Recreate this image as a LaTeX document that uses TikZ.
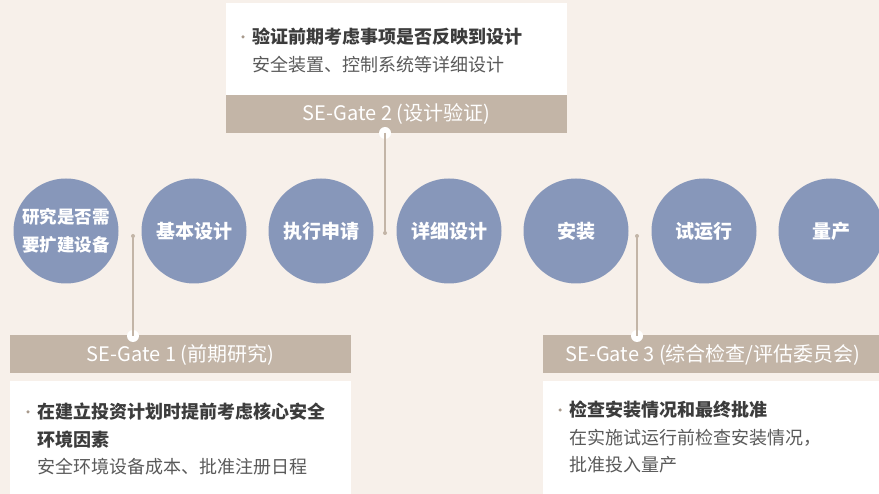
\documentclass[tikz,border=0pt]{standalone}
\usepackage{fontspec}
\setmainfont{Noto Sans CJK SC}
\definecolor{bgc}{HTML}{F7F0EA}
\definecolor{circc}{HTML}{8797BA}
\definecolor{barc}{HTML}{C3B5A7}
\definecolor{darktxt}{HTML}{3C3C3C}
\definecolor{lighttxt}{HTML}{5A5A5A}
\definecolor{bulc}{HTML}{A89A8C}
\begin{document}
\begin{tikzpicture}[x=1pt,y=-1pt,
  stage/.style={circle,fill=circc,minimum size=105pt,inner sep=0pt,text=white,font=\fontsize{19}{28}\selectfont\bfseries,align=center},
  gatebar/.style={rectangle,fill=barc,minimum height=38pt,inner sep=0pt,text=white,font=\fontsize{20}{22}\selectfont},
  infobox/.style={rectangle,fill=white,inner sep=0pt},
  headline/.style={anchor=west,inner sep=0pt,text=darktxt,font=\fontsize{18}{22}\selectfont\bfseries},
  subline/.style={anchor=west,inner sep=0pt,text=lighttxt,font=\fontsize{18}{22}\selectfont},
  bul/.style={circle,fill=bulc,inner sep=0pt,minimum size=3.5pt},
  link/.style={draw=barc,line width=1.4pt},
  enddot/.style={circle,fill=barc,inner sep=0pt,minimum size=4pt},
  gatedot/.style={circle,fill=white,inner sep=0pt,minimum size=12pt}
]
\fill[bgc] (0,0) rectangle (879,494);
\useasboundingbox (0,0) rectangle (879,494);

% stages
\node[stage,font=\fontsize{17.5}{28}\selectfont\bfseries] (s1) at (66,231) {研究是否需\\要扩建设备};
\node[stage] (s2) at (194,231) {基本设计};
\node[stage] (s3) at (321,231) {执行申请};
\node[stage] (s4) at (449,231) {详细设计};
\node[stage] (s5) at (576,231) {安装};
\node[stage] (s6) at (704,231) {试运行};
\node[stage] (s7) at (831,231) {量产};

% Gate 2
\node[infobox,minimum width=341pt,minimum height=92pt] (b2) at (396.5,49) {};
\node[gatebar,minimum width=341pt] (g2) at (396.5,114) {SE-Gate 2 (设计验证)};
\node[bul] (u2) at (243,37) {};
\node[headline] (h2) at (252,37) {验证前期考虑事项是否反映到设计};
\node[subline] (t2) at (252,65) {安全装置、控制系统等详细设计};

% Gate 1
\node[gatebar,minimum width=341pt] (g1) at (180.5,354.5) {SE-Gate 1 (前期研究)};
\node[infobox,minimum width=341pt,minimum height=120pt] (b1) at (180.5,441) {};
\node[bul] (u1) at (28,412) {};
\node[headline] (h1a) at (37,412) {在建立投资计划时提前考虑核心安全};
\node[headline] (h1b) at (37,440) {环境因素};
\node[subline] (t1) at (37,467) {安全环境设备成本、批准注册日程};

% Gate 3
\node[gatebar,minimum width=340pt] (g3) at (713,354.5) {SE-Gate 3 (综合检查/评估委员会)};
\node[infobox,minimum width=340pt,minimum height=120pt] (b3) at (713,441) {};
\node[bul] (u3) at (560,410) {};
\node[headline] (h3) at (569,410) {检查安装情况和最终批准};
\node[subline] (t3a) at (569,438) {在实施试运行前检查安装情况，};
\node[subline] (t3b) at (569,465) {批准投入量产};

% connectors
\coordinate (c2a) at (385,133);
\coordinate (c2b) at (385,233);
\coordinate (c1a) at (133,336);
\coordinate (c1b) at (133,236);
\coordinate (c3a) at (637,336);
\coordinate (c3b) at (637,236);
\draw[link] (c2a) -- (c2b);
\draw[link] (c1a) -- (c1b);
\draw[link] (c3a) -- (c3b);
\node[gatedot] (d2) at (c2a) {};
\node[gatedot] (d1) at (c1a) {};
\node[gatedot] (d3) at (c3a) {};
\draw[link] (d2.center) -- (d2.south);
\draw[link] (d1.center) -- (d1.north);
\draw[link] (d3.center) -- (d3.north);
\node[enddot] (e2) at (c2b) {};
\node[enddot] (e1) at (c1b) {};
\node[enddot] (e3) at (c3b) {};
\end{tikzpicture}
\end{document}
